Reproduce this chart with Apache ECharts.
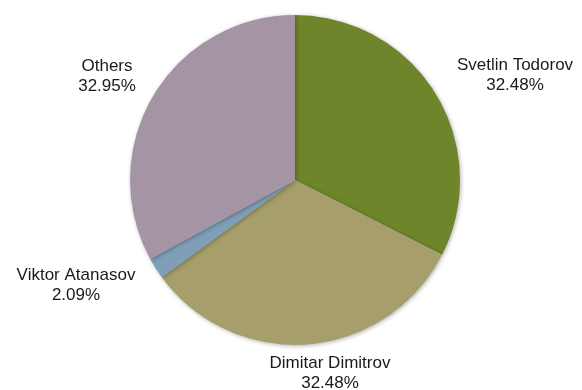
<!DOCTYPE html>
<html>
<head>
<meta charset="utf-8">
<script src="https://cdn.jsdelivr.net/npm/echarts@6/dist/echarts.min.js"></script>
<style>
  html, body { margin: 0; padding: 0; background: #fff; }
  #chart { width: 582px; height: 390px; }
</style>
</head>
<body>
<div id="chart"></div>
<script>
// slice names and shares (%), clockwise from 12 o'clock
const names = ['Svetlin Todorov', 'Dimitar Dimitrov', 'Viktor Atanasov', 'Others'];
const shares = [32.48, 32.48, 2.09, 32.95];
const colors = ['#6E852B', '#A69F6B', '#7F9FB8', '#A595A4'];

// label block centres (px), Excel "best fit" style
const labelSpots = [
  [515, 75],
  [330, 373],
  [76, 285],
  [107, 76],
];

const mychart = echarts.init(document.getElementById('chart'));

const option = {
  animation: false,
  color: colors,
  series: [
    {
      type: 'pie',
      center: [295, 180],
      radius: [0, 165],
      startAngle: 90,
      clockwise: true,
      percentPrecision: 2,
      itemStyle: {
        shadowBlur: 4,
        shadowOffsetX: 1,
        shadowOffsetY: 1,
        shadowColor: 'rgba(0,0,0,0.3)',
      },
      label: {
        show: true,
        position: 'outside',
        formatter: '{b}\n{d}%',
        fontFamily: '"Liberation Sans", Arial, sans-serif',
        fontSize: 17,
        lineHeight: 20,
        color: '#1a1a1a',
        align: 'center',
        overflow: 'none',
      },
      labelLine: { show: false },
      labelLayout: (params) => {
        const p = labelSpots[params.dataIndex];
        return { x: p[0], y: p[1], align: 'center', verticalAlign: 'middle' };
      },
      emphasis: { disabled: true },
      data: names.map((n, i) => ({ name: n, value: shares[i] })),
    },
  ],
};

mychart.setOption(option);
</script>
</body>
</html>
